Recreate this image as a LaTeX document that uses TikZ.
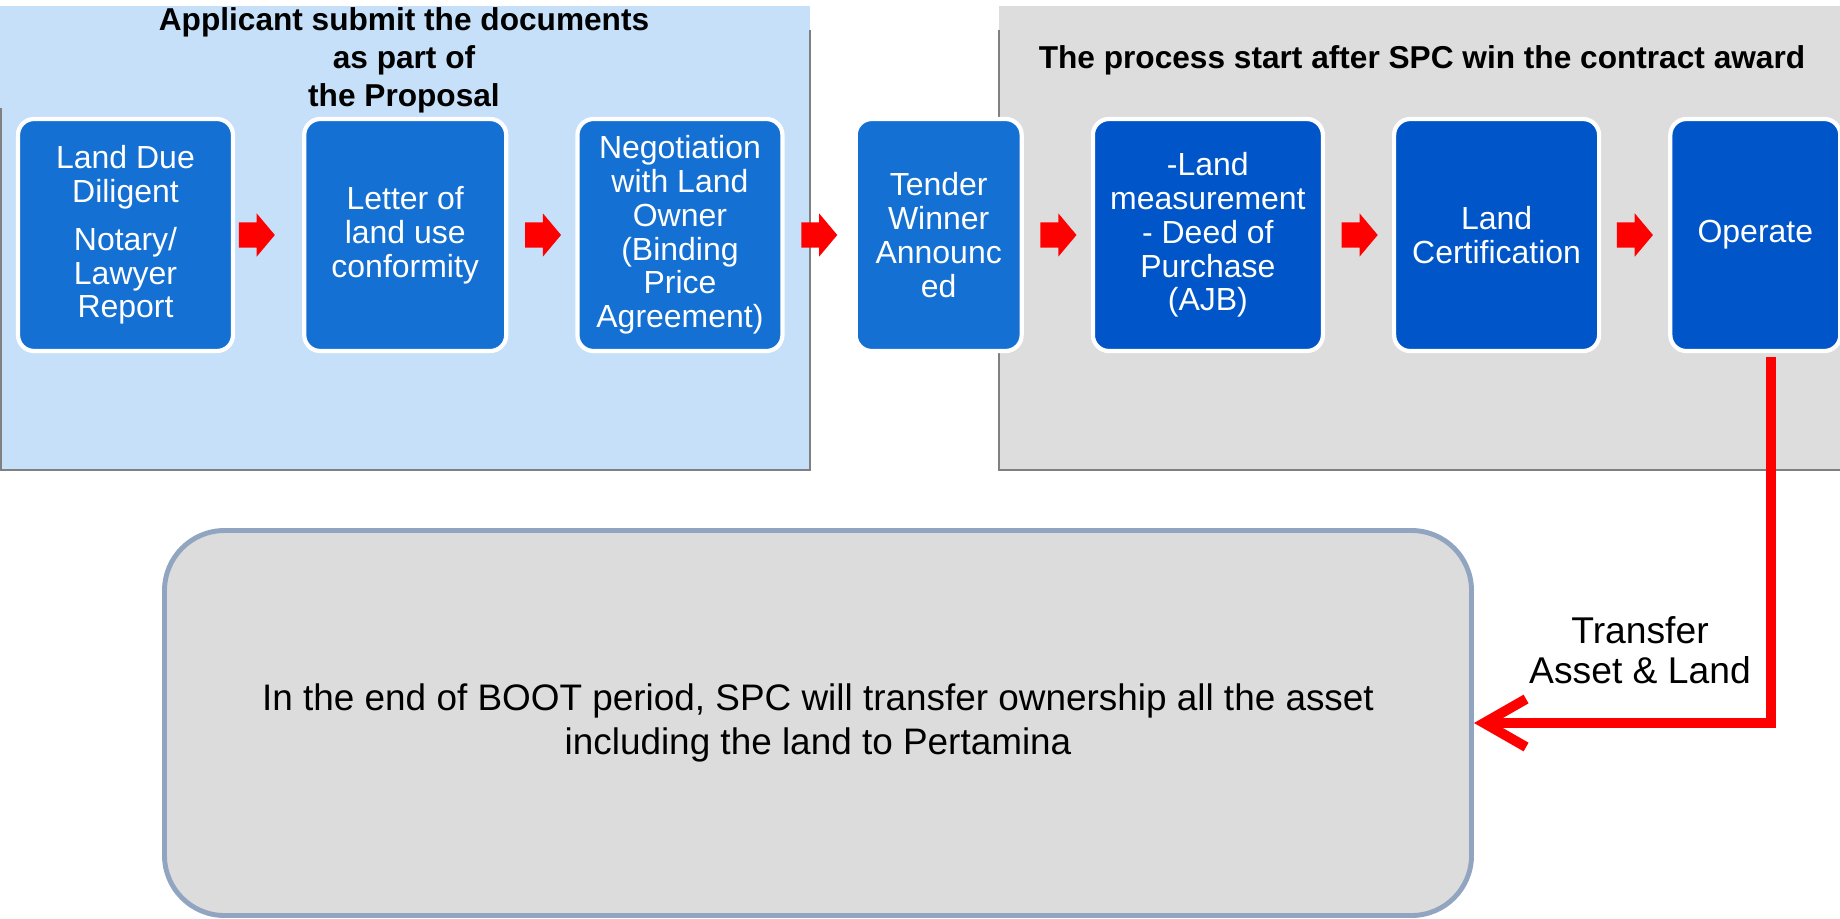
\documentclass[tikz,border=0pt]{standalone}
\usepackage{fontspec}
\setmainfont{Liberation Sans}
\usepackage{tikz}
\usetikzlibrary{shapes}
\usetikzlibrary{shapes.arrows}
\usetikzlibrary{positioning}
\usetikzlibrary{arrows.meta}
\definecolor{panelblue}{RGB}{197,224,248}
\definecolor{panelgray}{RGB}{221,221,221}
\definecolor{boxlight}{RGB}{20,112,210}
\definecolor{boxdark}{RGB}{0,86,200}
\definecolor{endfill}{RGB}{220,220,220}
\definecolor{endline}{RGB}{145,165,192}
\definecolor{panelline}{RGB}{128,128,128}
\tikzset{
    mynodel/.style = {rectangle, rounded corners=1.6mm, line width=1.2pt, draw=white, fill=boxlight, align=center, text=white, minimum height=2.32cm, inner sep=0pt, font=\fontsize{9.1}{9.6}\selectfont},
    mynoded/.style = {mynodel, fill=boxdark},
    mynodee/.style = {rectangle, rounded corners=6mm, line width=1.4pt, draw=endline, fill=endfill, align=center, text=black, font=\fontsize{10.5}{12.6}\selectfont},
    mytitle/.style = {align=center, font=\fontsize{9}{10.8}\selectfont\bfseries},
    mylabel/.style = {align=center, font=\fontsize{10.6}{11.4}\selectfont},
    myarrow/.style = {single arrow, fill=red, draw=none, minimum height=0.36cm, inner xsep=0pt, inner ysep=0.12cm, single arrow head extend=0.09cm, single arrow tip angle=100},
    edger/.style = {-{Straight Barb[length=4.2mm,width=4.8mm]}, line width=1mm, red},
    paneledge/.style = {-, line width=0.6pt, panelline} % panel border
}

\begin{document}
\begin{tikzpicture}
  \useasboundingbox (0,0) rectangle (18.4,-9.18);

  % panels
  \fill[panelblue] (0,-0.06) rectangle (8.10,-4.70);
  \draw[paneledge] (0.01,-1.08) -- (0.01,-4.70) -- (8.10,-4.70) -- (8.10,-0.30);
  \fill[panelgray] (9.99,-0.06) rectangle (18.4,-4.70);
  \draw[paneledge] (9.99,-0.30) -- (9.99,-4.70) -- (18.4,-4.70);

  \node[mytitle] (ttlapp) at (4.04,-0.60) {Applicant submit the documents\\as part of\\the Proposal};
  \node[mytitle] (ttlspc) at (14.22,-0.60) {The process start after SPC win the contract award};

  % steps
  \node[mynodel, minimum width=2.15cm] (due) at (1.255,-2.35) {Land Due\\Diligent\\[4pt]Notary/\\Lawyer\\Report};
  \node[mynodel, minimum width=2.02cm, right=0.67cm of due] (letter) {Letter of\\land use\\conformity};
  \node[mynodel, minimum width=2.05cm, right=0.67cm of letter] (nego) {Negotiation\\with Land\\Owner\\(Binding\\Price\\Agreement)};
  \node[mynodel, minimum width=1.66cm, right=0.69cm of nego] (tender) {Tender\\Winner\\Announc\\ed};
  \node[mynoded, minimum width=2.30cm, right=0.67cm of tender] (deed) {-Land\\measurement\\- Deed of\\Purchase\\(AJB)};
  \node[mynoded, minimum width=2.05cm, right=0.67cm of deed] (cert) {Land\\Certification};
  \node[mynoded, minimum width=1.70cm, right=0.67cm of cert] (op) {Operate};

  % block arrows
  \node[myarrow, right=0.03cm of due] (a1) {};
  \node[myarrow, right=0.16cm of letter] (a2) {};
  \node[myarrow, right=0.16cm of nego] (a3) {};
  \node[myarrow, right=0.16cm of tender] (a4) {};
  \node[myarrow, right=0.16cm of deed] (a5) {};
  \node[myarrow, right=0.15cm of cert] (a6) {};

  \node[mynodee, minimum width=13.07cm, minimum height=3.85cm] (endbox) at (8.18,-7.23)
    {In the end of BOOT period, SPC will transfer ownership all the asset\\including the land to Pertamina};

  \node[mylabel] (xfer) at (16.40,-6.50) {Transfer\\Asset \& Land};
  \draw[edger] ([xshift=1.6mm,yshift=-0.4mm]op.south) |- (endbox.east);

\end{tikzpicture}
\end{document}
